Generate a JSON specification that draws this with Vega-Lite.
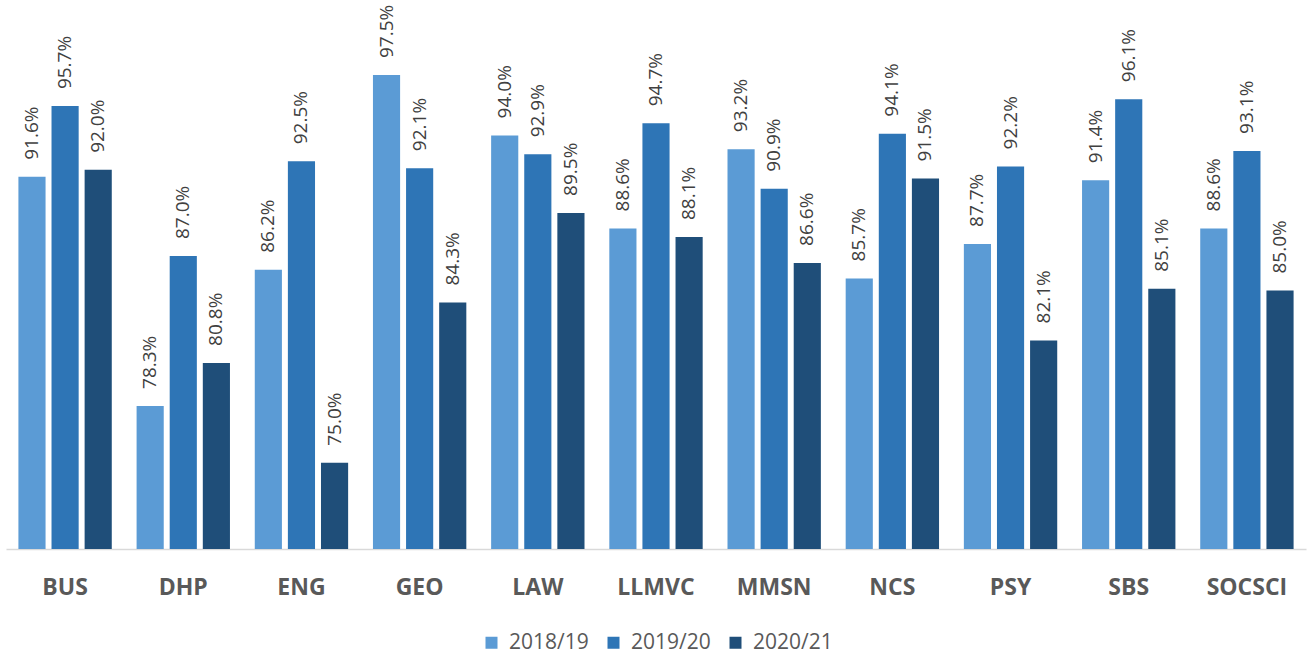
{
  "$schema": "https://vega.github.io/schema/vega-lite/v6.json",
  "width": 1300,
  "height": 517,
  "autosize": {"type": "none"},
  "padding": {"left": 6, "top": 32, "right": 1, "bottom": 108},
  "background": "white",
  "config": {
    "view": {"stroke": null},
    "font": "Open Sans"
  },
  "data": {
    "values": [
      {"school": "BUS", "year": "2018/19", "rate": 0.916},
      {"school": "BUS", "year": "2019/20", "rate": 0.957},
      {"school": "BUS", "year": "2020/21", "rate": 0.920},
      {"school": "DHP", "year": "2018/19", "rate": 0.783},
      {"school": "DHP", "year": "2019/20", "rate": 0.870},
      {"school": "DHP", "year": "2020/21", "rate": 0.808},
      {"school": "ENG", "year": "2018/19", "rate": 0.862},
      {"school": "ENG", "year": "2019/20", "rate": 0.925},
      {"school": "ENG", "year": "2020/21", "rate": 0.750},
      {"school": "GEO", "year": "2018/19", "rate": 0.975},
      {"school": "GEO", "year": "2019/20", "rate": 0.921},
      {"school": "GEO", "year": "2020/21", "rate": 0.843},
      {"school": "LAW", "year": "2018/19", "rate": 0.940},
      {"school": "LAW", "year": "2019/20", "rate": 0.929},
      {"school": "LAW", "year": "2020/21", "rate": 0.895},
      {"school": "LLMVC", "year": "2018/19", "rate": 0.886},
      {"school": "LLMVC", "year": "2019/20", "rate": 0.947},
      {"school": "LLMVC", "year": "2020/21", "rate": 0.881},
      {"school": "MMSN", "year": "2018/19", "rate": 0.932},
      {"school": "MMSN", "year": "2019/20", "rate": 0.909},
      {"school": "MMSN", "year": "2020/21", "rate": 0.866},
      {"school": "NCS", "year": "2018/19", "rate": 0.857},
      {"school": "NCS", "year": "2019/20", "rate": 0.941},
      {"school": "NCS", "year": "2020/21", "rate": 0.915},
      {"school": "PSY", "year": "2018/19", "rate": 0.877},
      {"school": "PSY", "year": "2019/20", "rate": 0.922},
      {"school": "PSY", "year": "2020/21", "rate": 0.821},
      {"school": "SBS", "year": "2018/19", "rate": 0.914},
      {"school": "SBS", "year": "2019/20", "rate": 0.961},
      {"school": "SBS", "year": "2020/21", "rate": 0.851},
      {"school": "SOCSCI", "year": "2018/19", "rate": 0.886},
      {"school": "SOCSCI", "year": "2019/20", "rate": 0.931},
      {"school": "SOCSCI", "year": "2020/21", "rate": 0.850}
    ]
  },
  "encoding": {
    "x": {
      "field": "school",
      "type": "nominal",
      "sort": null,
      "scale": {"paddingInner": 0.21, "paddingOuter": 0.105},
      "axis": {
        "title": null,
        "labelAngle": 0,
        "labelFont": "Open Sans",
        "labelFontWeight": "bold",
        "labelFontSize": 23,
        "labelColor": "#595959",
        "labelPadding": 27,
        "ticks": false,
        "domainColor": "#D9D9D9",
        "domainWidth": 1.5
      }
    },
    "xOffset": {
      "field": "year",
      "type": "nominal",
      "scale": {"paddingInner": 0.18, "paddingOuter": 0}
    },
    "y": {
      "field": "rate",
      "type": "quantitative",
      "scale": {"domain": [0.7, 1.0], "zero": false, "nice": false},
      "axis": null
    }
  },
  "layer": [
    {
      "mark": {"type": "bar", "clip": true},
      "encoding": {
        "color": {
          "field": "year",
          "type": "nominal",
          "scale": {
            "domain": ["2018/19", "2019/20", "2020/21"],
            "range": ["#5B9BD5", "#2E75B6", "#1F4E79"]
          },
          "legend": {
            "title": null,
            "orient": "none",
            "direction": "horizontal",
            "legendX": 475,
            "legendY": 600,
            "symbolType": "square",
            "symbolSize": 144,
            "symbolStrokeWidth": 0,
            "labelFont": "Open Sans",
            "labelFontSize": 21,
            "labelColor": "#595959",
            "labelOffset": 7,
            "columnPadding": 14
          }
        }
      }
    },
    {
      "mark": {
        "type": "text",
        "angle": 270,
        "align": "left",
        "baseline": "middle",
        "dx": 17,
        "font": "Open Sans",
        "fontSize": 19,
        "color": "#404040"
      },
      "encoding": {
        "text": {"field": "rate", "type": "quantitative", "format": ".1%"}
      }
    }
  ]
}
